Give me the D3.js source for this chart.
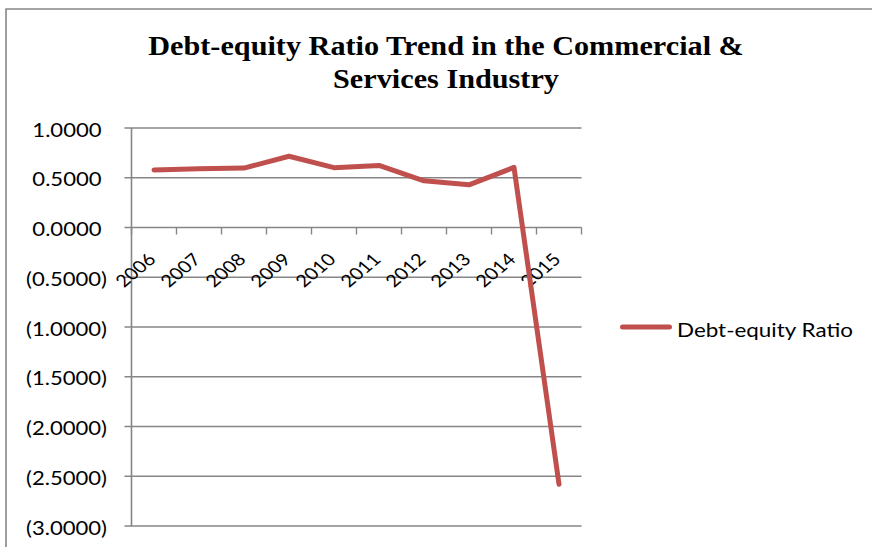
<!DOCTYPE html>
<html>
<head>
<meta charset="utf-8">
<script src="https://cdn.jsdelivr.net/npm/d3@7"></script>
<style>
  body { margin: 0; background: #fff; }
  svg { display: block; }
</style>
</head>
<body>
<svg id="chart" width="872" height="550"></svg>
<script>
// Debt-equity ratio, Commercial & Services industry, 2006–2015
const years = ["2006", "2007", "2008", "2009", "2010", "2011", "2012", "2013", "2014", "2015"];
const ratio = [0.578, 0.591, 0.597, 0.716, 0.601, 0.624, 0.469, 0.429, 0.604, -2.58];
const yTicks = [1, 0.5, 0, -0.5, -1, -1.5, -2, -2.5, -3];
const seriesName = "Debt-equity Ratio";
const titleLines = ["Debt-equity Ratio Trend in the Commercial &", "Services Industry"];

const W = 872, H = 550;
const plot = { left: 131.5, right: 581.5, top: 128, bottom: 526 };
const gridColor = "#868686";
const lineColor = "#C0504D";
const sansFont = "Lato, 'Open Sans', sans-serif";
const serifFont = "'Liberation Serif', 'Times New Roman', serif";
const stretch = 1.18;       // wide rendering of the sans labels
const titleStretch = 1.12;

const svg = d3.select("#chart").attr("viewBox", `0 0 ${W} ${H}`);

const x = d3.scaleBand().domain(years).range([plot.left, plot.right]);
const y = d3.scaleLinear().domain([-3, 1]).range([plot.bottom, plot.top]);

// accounting-style number format: negatives in parentheses
const fmt4 = d3.format(".4f");
const fmt = v => v < 0 ? `(${fmt4(-v)})` : fmt4(v);

// chart frame (top and left edges)
svg.append("path")
  .attr("d", `M6,547V9H${W}`)
  .attr("fill", "none")
  .attr("stroke", gridColor)
  .attr("stroke-width", 1.6);

// title
svg.append("g").selectAll("text")
  .data(titleLines)
  .join("text")
  .attr("transform", (d, i) => `translate(446,${55.3 + i * 32.7}) scale(${titleStretch},1)`)
  .attr("text-anchor", "middle")
  .attr("font-family", serifFont)
  .attr("font-weight", "bold")
  .attr("font-size", 27)
  .attr("fill", "#000")
  .text(d => d);

// horizontal gridlines, each with a short tick left of the value axis
svg.append("g").selectAll("line")
  .data(yTicks)
  .join("line")
  .attr("x1", plot.left - 7)
  .attr("x2", plot.right)
  .attr("y1", d => y(d))
  .attr("y2", d => y(d))
  .attr("stroke", gridColor)
  .attr("stroke-width", 1.4);

// value axis line
svg.append("line")
  .attr("x1", plot.left).attr("x2", plot.left)
  .attr("y1", y(1)).attr("y2", y(-3))
  .attr("stroke", gridColor)
  .attr("stroke-width", 1.6);

// category tick marks below the zero line, at band edges
const edges = years.map(d => x(d)).concat([x(years[years.length - 1]) + x.bandwidth()]);
svg.append("g").selectAll("line")
  .data(edges)
  .join("line")
  .attr("x1", d => d).attr("x2", d => d)
  .attr("y1", y(0)).attr("y2", y(0) + 7)
  .attr("stroke", gridColor)
  .attr("stroke-width", 1.4);

// value labels, right aligned so digits line up with the parenthesised ones
const parenW = 5.5;
svg.append("g").selectAll("text")
  .data(yTicks)
  .join("text")
  .attr("transform", d => `translate(${107 - (d < 0 ? 0 : parenW)},${y(d) + 8.7}) scale(${stretch},1)`)
  .attr("text-anchor", "end")
  .attr("font-family", sansFont)
  .attr("font-size", 18.7)
  .attr("fill", "#000")
  .text(d => fmt(d));

// rotated year labels
svg.append("g").selectAll("text")
  .data(years)
  .join("text")
  .attr("transform", d => `translate(${x(d) + x.bandwidth() / 2 + 3},${y(0) + 33}) scale(${stretch},1) rotate(-45)`)
  .attr("text-anchor", "end")
  .attr("font-family", sansFont)
  .attr("font-size", 17)
  .attr("fill", "#000")
  .text(d => d);

// data line
const points = years.map((yr, i) => ({ year: yr, value: ratio[i] }));
const line = d3.line()
  .x(d => x(d.year) + x.bandwidth() / 2)
  .y(d => y(d.value));

svg.append("path")
  .datum(points)
  .attr("d", line)
  .attr("fill", "none")
  .attr("stroke", lineColor)
  .attr("stroke-width", 5)
  .attr("stroke-linejoin", "round")
  .attr("stroke-linecap", "round");

// legend
const legendY = (plot.top + plot.bottom) / 2;
const legend = svg.append("g");
legend.append("line")
  .attr("x1", 622.5).attr("x2", 669.5)
  .attr("y1", legendY).attr("y2", legendY)
  .attr("stroke", lineColor)
  .attr("stroke-width", 5)
  .attr("stroke-linecap", "round");
legend.append("text")
  .attr("transform", `translate(677,${legendY + 9.7}) scale(1.15,1)`)
  .attr("font-family", sansFont)
  .attr("font-size", 19.5)
  .attr("fill", "#000")
  .text(seriesName);
</script>
</body>
</html>
